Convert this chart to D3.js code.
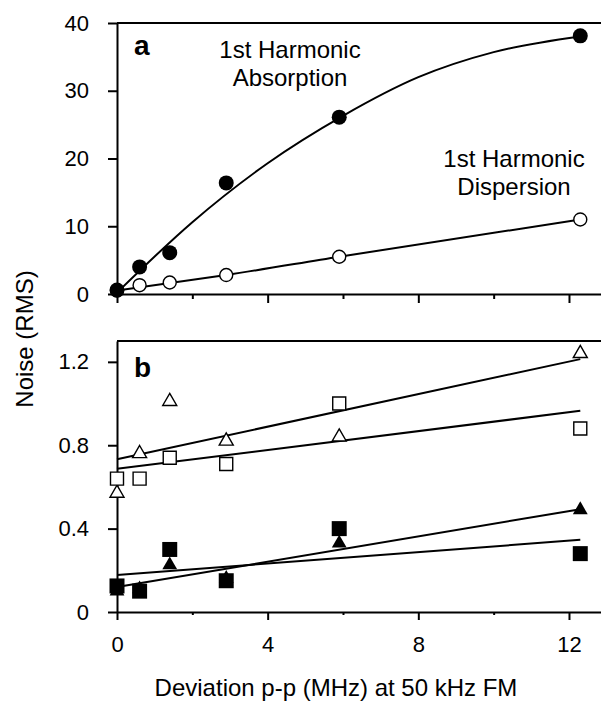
<!DOCTYPE html>
<html>
<head>
<meta charset="utf-8">
<script src="https://cdn.jsdelivr.net/npm/d3@7"></script>
<style>
  body { margin: 0; background: #fff; }
  svg { display: block; font-family: "Liberation Sans", Arial, sans-serif; }
</style>
</head>
<body>
<div id="chart"></div>
<script>
// Noise vs FM deviation, two stacked panels (a: 1st harmonic, b: other traces)

// shared x values (MHz p-p)
const deviation = [0, 0.6, 1.4, 2.9, 5.9, 12.3];

// panel a
const absorption = [0.6, 4.0, 6.1, 16.4, 26.1, 38.1];
const dispersion = [0.5, 1.3, 1.7, 2.8, 5.5, 11.0];
const absFitX = [0, 2, 4, 6, 8, 10, 12.3];
const absFitY = [0.2, 10.6, 19.3, 26.3, 32.0, 35.7, 38.0];
const dispFitX = [0, 2.9, 5.9, 12.3];
const dispFitY = [0.5, 2.8, 5.5, 11.0];

// panel b
const triOpen = [0.57, 0.76, 1.01, 0.82, 0.84, 1.24];
const sqOpen = [0.64, 0.64, 0.74, 0.71, 1.0, 0.88];
const triFilled = [0.1, 0.11, 0.225, 0.16, 0.33, 0.49];
const sqFilled = [0.125, 0.1, 0.3, 0.15, 0.4, 0.28];
const fitEndsX = [0, 12.3];
const triOpenFit = [0.733, 1.213];
const sqOpenFit = [0.687, 0.965];
const triFilledFit = [0.12, 0.493];
const sqFilledFit = [0.178, 0.346];

// ticks
const xTicks = [0, 2, 4, 6, 8, 10, 12];
const xMajor = [0, 4, 8, 12];
const yTicksA = [0, 10, 20, 30, 40];
const yTicksB = [0, 0.4, 0.8, 1.2];
const yLabelsB = ["0", "0.4", "0.8", "1.2"];

const width = 601;
const height = 701;

const svg = d3
  .select("#chart")
  .append("svg")
  .attr("width", width)
  .attr("height", height);

const x = d3.scaleLinear().domain([0, 12.85]).range([117, 601]);
const yA = d3.scaleLinear().domain([0, 40]).range([294, 23]);
const yB = d3.scaleLinear().domain([0, 1.3]).range([612, 341]);

function drawAxes(y, yTicks, yFmt, majorLen, minorLen, withLabels) {
  const [y0, y1] = y.range();

  // top border
  svg
    .append("line")
    .attr("x1", x(0))
    .attr("x2", width)
    .attr("y1", y1)
    .attr("y2", y1)
    .attr("stroke", "#000")
    .attr("stroke-width", 2);

  const gx = svg
    .append("g")
    .attr("transform", `translate(0,${y0})`)
    .call(
      d3
        .axisBottom(x)
        .tickValues(xTicks)
        .tickSize(majorLen)
        .tickSizeOuter(0)
        .tickPadding(16)
        .tickFormat((d) => (withLabels && xMajor.includes(d) ? d : ""))
    );
  gx.selectAll(".tick line")
    .attr("y2", (d) => (xMajor.includes(d) ? majorLen : minorLen))
    .attr("stroke-width", 2);

  const gy = svg
    .append("g")
    .attr("transform", `translate(${x(0)},0)`)
    .call(
      d3
        .axisLeft(y)
        .tickValues(yTicks)
        .tickSize(9)
        .tickSizeOuter(0)
        .tickPadding(19)
        .tickFormat(yFmt)
    );
  gy.selectAll(".tick line").attr("stroke-width", 2);

  [gx, gy].forEach((g) => {
    g.select(".domain").attr("stroke-width", 2);
    g.selectAll("text")
      .attr("font-size", 22)
      .attr("font-family", "Liberation Sans, Arial, sans-serif")
      .attr("fill", "#000");
  });
}

drawAxes(yA, yTicksA, (d) => d, 9, 5, false);
drawAxes(yB, yTicksB, (d, i) => yLabelsB[i], 8, 3, true);

// fit curves
const line = (y) =>
  d3
    .line()
    .x((d) => x(d[0]))
    .y((d) => y(d[1]))
    .curve(d3.curveMonotoneX);

function drawFit(xs, ys, y) {
  svg
    .append("path")
    .datum(xs.map((v, i) => [v, ys[i]]))
    .attr("d", line(y))
    .attr("fill", "none")
    .attr("stroke", "#000")
    .attr("stroke-width", 2);
}

drawFit(absFitX, absFitY, yA);
drawFit(dispFitX, dispFitY, yA);
drawFit(fitEndsX, triOpenFit, yB);
drawFit(fitEndsX, sqOpenFit, yB);
drawFit(fitEndsX, triFilledFit, yB);
drawFit(fitEndsX, sqFilledFit, yB);

// markers
function drawMarkers(vals, y, type, size, filled) {
  svg
    .append("g")
    .selectAll("path")
    .data(vals)
    .enter()
    .append("path")
    .attr("transform", (d, i) => `translate(${x(deviation[i])},${y(d)})`)
    .attr("d", d3.symbol().type(type).size(size))
    .attr("fill", filled ? "#000" : "#fff")
    .attr("stroke", "#000")
    .attr("stroke-width", filled ? 0 : 1.4);
}

drawMarkers(dispersion, yA, d3.symbolCircle, Math.PI * 6.5 * 6.5, false);
drawMarkers(absorption, yA, d3.symbolCircle, Math.PI * 7.5 * 7.5, true);

drawMarkers(triFilled, yB, d3.symbolTriangle, 95, true);
drawMarkers(sqFilled, yB, d3.symbolSquare, 15 * 15, true);
drawMarkers(triOpen, yB, d3.symbolTriangle, 85, false);
drawMarkers(sqOpen, yB, d3.symbolSquare, 13 * 13, false);

// text
const addText = (tx, ty, str, size, weight, anchor) =>
  svg
    .append("text")
    .attr("x", tx)
    .attr("y", ty)
    .attr("font-size", size)
    .attr("font-weight", weight || "normal")
    .attr("text-anchor", anchor || "start")
    .text(str);

addText(134, 55, "a", 28, "bold");
addText(134, 377, "b", 28, "bold");
addText(290, 58, "1st Harmonic", 24, null, "middle");
addText(290, 86, "Absorption", 24, null, "middle");
addText(514, 167, "1st Harmonic", 24, null, "middle");
addText(514, 195, "Dispersion", 24, null, "middle");
addText(336, 696, "Deviation p-p (MHz) at 50 kHz FM", 24, null, "middle");

svg
  .append("text")
  .attr("transform", "translate(33,339) rotate(-90)")
  .attr("font-size", 24)
  .attr("text-anchor", "middle")
  .text("Noise (RMS)");
</script>
</body>
</html>
